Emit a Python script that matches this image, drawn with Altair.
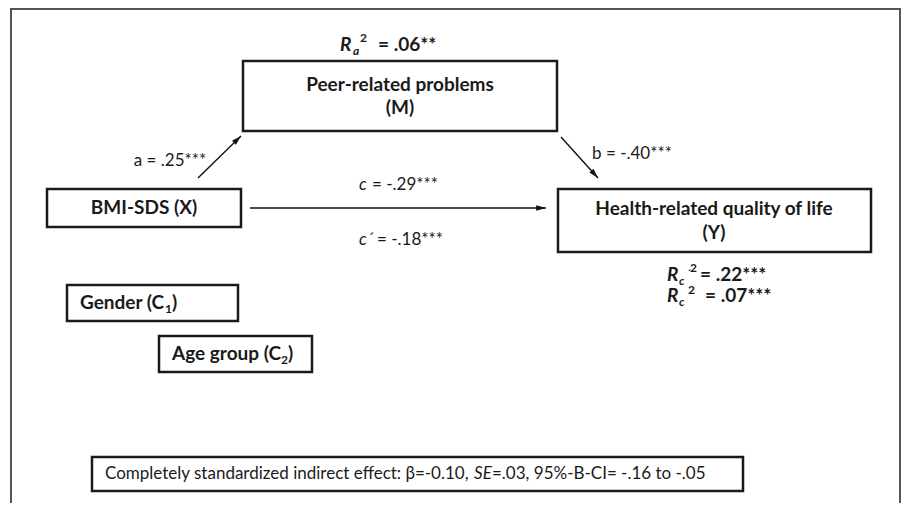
import altair as alt
import pandas as pd

FONT = "Lato"

# ---- boxes (diagram nodes) ----
box_name = ["frame", "M", "X", "Y", "C1", "C2", "effect"]
box_x1 = [11, 243, 47, 558, 67, 159, 92]
box_x2 = [900, 557, 241, 871, 238, 312, 743]
box_y1 = [9, 61, 189, 189, 285, 336, 457]
box_y2 = [540, 131, 227, 252, 321, 372, 491]

# ---- paths (arrows) ----
path_name = ["a", "b", "c"]
path_x1 = [198, 561, 250]
path_y1 = [178, 137, 208]
path_x2 = [241, 598, 546]
path_y2 = [136, 178, 208]
path_angle = [46, 138, 90]

# ---- text pieces ----
txt = ["R", "a", "2", "= .06**",
       "Peer-related problems", "(M)",
       "a = .25***", "b = -.40***",
       "BMI-SDS (X)",
       "c", "= -.29***", "c\u00b4", "= -.18***",
       "Health-related quality of life", "(Y)",
       "R", "c", "\u00b4", "2", "= .22***",
       "R", "c", "2", "= .07***",
       "Gender (C", "1", ")",
       "Age group (C", "2", ")",
       "Completely standardized indirect effect: \u03b2=-0.10,", "SE", "=.03, 95%-B-CI= -.16 to -.05"]
txt_x = [340, 353, 360, 378,
         400, 400,
         170, 632,
         144,
         359, 372, 359, 377,
         714, 714,
         667, 679, 686, 690, 700,
         667, 679, 688, 705,
         80, 165, 172,
         172, 281, 288,
         105, 474, 492]
txt_y = [45, 51, 38, 45,
         85, 108,
         161, 154,
         208,
         185, 185, 240, 240,
         209, 233,
         275, 281, 274, 268, 275,
         296, 302, 290, 296,
         303, 309, 303,
         354, 360, 354,
         474, 474, 474]
txt_size = [19, 12, 12, 19,
            19, 19,
            17, 17,
            19,
            17, 17, 17, 17,
            19, 19,
            19, 12, 12, 12, 19,
            19, 12, 12, 19,
            19, 12, 19,
            19, 12, 19,
            17, 17, 17]
txt_kind = ["bi", "bi", "b", "b",
            "b", "b",
            "r", "r",
            "b",
            "i", "r", "i", "r",
            "b", "b",
            "bi", "bi", "bi", "b", "b",
            "bi", "bi", "b", "b",
            "b", "b", "b",
            "b", "b", "b",
            "r", "i", "r"]
txt_align = ["left", "left", "left", "left",
             "center", "center",
             "center", "center",
             "center",
             "left", "left", "left", "left",
             "center", "center",
             "left", "left", "left", "left", "left",
             "left", "left", "left", "left",
             "left", "left", "left",
             "left", "left", "left",
             "left", "left", "left"]

boxes = pd.DataFrame({"name": box_name, "x1": box_x1, "x2": box_x2, "y1": box_y1, "y2": box_y2})
paths = pd.DataFrame({"name": path_name, "x1": path_x1, "y1": path_y1, "x2": path_x2, "y2": path_y2, "angle": path_angle})
texts = pd.DataFrame({"t": txt, "x": txt_x, "y": txt_y, "s": txt_size, "k": txt_kind, "al": txt_align})

W, H = 893, 495
xs = alt.Scale(domain=[8, 8 + W], nice=False, zero=False)
ys = alt.Scale(domain=[8, 8 + H], nice=False, zero=False, reverse=True)

frame = alt.Chart(boxes[boxes.name == "frame"]).mark_rect(
    fillOpacity=0, stroke="#555555", strokeWidth=2
).encode(x=alt.X("x1:Q", scale=xs, axis=None), x2="x2:Q",
         y=alt.Y("y1:Q", scale=ys, axis=None), y2="y2:Q")

nodes = alt.Chart(boxes[boxes.name != "frame"]).mark_rect(
    fillOpacity=0, stroke="#1a1a1a", strokeWidth=2.5
).encode(x=alt.X("x1:Q", scale=xs, axis=None), x2="x2:Q",
         y=alt.Y("y1:Q", scale=ys, axis=None), y2="y2:Q")

lines = alt.Chart(paths).mark_rule(color="#111111", strokeWidth=1.4).encode(
    x=alt.X("x1:Q", scale=xs, axis=None), x2="x2:Q",
    y=alt.Y("y1:Q", scale=ys, axis=None), y2="y2:Q")

heads = alt.Chart(paths).mark_point(
    shape="M0,0L-0.45,1.6L0.45,1.6Z", filled=True, fill="#111111", opacity=1,
    size=150, strokeWidth=0
).encode(x=alt.X("x2:Q", scale=xs, axis=None), y=alt.Y("y2:Q", scale=ys, axis=None),
         angle=alt.Angle("angle:Q", scale=None))

styles = {"b": ("bold", "normal"), "bi": ("bold", "italic"),
          "r": ("normal", "normal"), "i": ("normal", "italic")}
text_layers = []
for k, (fw, fs) in styles.items():
    for al in ["left", "center"]:
        sub = texts[(texts.k == k) & (texts.al == al)]
        if len(sub) == 0:
            continue
        text_layers.append(
            alt.Chart(sub).mark_text(font=FONT, fontWeight=fw, fontStyle=fs, align=al,
                                     baseline="middle", color="#1a1a1a").encode(
                x=alt.X("x:Q", scale=xs, axis=None), y=alt.Y("y:Q", scale=ys, axis=None),
                text="t:N", size=alt.Size("s:Q", scale=None))
        )

chart = alt.layer(frame, nodes, lines, heads, *text_layers).properties(
    width=W, height=H, padding=0, autosize=alt.AutoSizeParams(type="none"),
    background="white"
).configure_view(stroke=None)

chart.save("out.html", embed_options={"renderer": "svg", "actions": False})
